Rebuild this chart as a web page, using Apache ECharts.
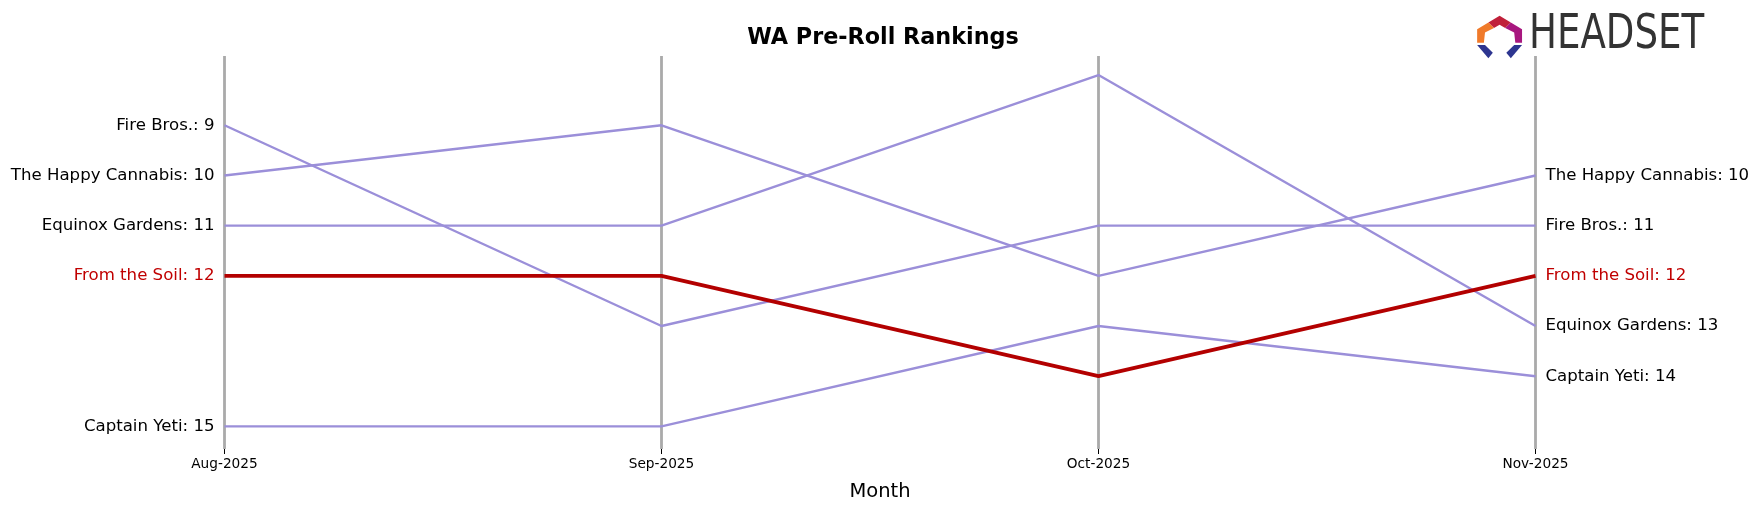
<!DOCTYPE html>
<html><head><meta charset="utf-8">
<script src="https://cdn.jsdelivr.net/npm/echarts@6/dist/echarts.min.js"></script>
<style>html,body{margin:0;padding:0;background:#fff}#c{width:1760px;height:507px}</style>
</head><body><div id="c"></div>
<script>
const months = ['Aug-2025','Sep-2025','Oct-2025','Nov-2025'];
const fireBros = [9,13,11,11];
const happyCannabis = [10,9,12,10];
const equinox = [11,11,8,13];
const fromTheSoil = [12,12,14,12];
const captainYeti = [15,15,13,14];
const names = ['Fire Bros.','The Happy Cannabis','Equinox Gardens','From the Soil','Captain Yeti'];
const values = [fireBros,happyCannabis,equinox,fromTheSoil,captainYeti];
const highlight = 'From the Soil';

const series = names.map((n,i)=>{
  const hl = n===highlight;
  const col = hl ? '#b30000' : '#9b8fd9';
  const vals = values[i];
  const lab = (pos,v)=>({show:true,position:pos,distance:10,formatter:n+': '+v,color:hl?'#c00000':'#000',fontSize:16.6,fontFamily:'DejaVu Sans'});
  return {
    type:'line', name:n, z: hl?5:2, symbol:'circle', symbolSize:0, silent:true,
    itemStyle:{color:col},
    lineStyle:{color:col,width:hl?3.8:2.4},
    data: vals.map((v,j)=>{
      const d={value:v};
      if(j===0) d.label=lab('left',v);
      if(j===vals.length-1) d.label=lab('right',v);
      return d;
    })
  };
});

const chart = echarts.init(document.getElementById('c'));
const s=1760/1568;
const P=pts=>pts.map(p=>[p[0]*s,p[1]*s]);
chart.setOption({
  animation:false,
  title:{text:'WA Pre-Roll Rankings',left:878,top:22,textAlign:'center',textStyle:{fontSize:22.3,fontWeight:'bold',fontFamily:'DejaVu Sans',color:'#000'}},
  grid:{left:224.5,right:224.5,top:56,height:396},
  xAxis:{type:'category',data:months,boundaryGap:false,
    name:'Month',nameLocation:'middle',nameGap:33,nameTextStyle:{fontSize:19.5,fontFamily:'DejaVu Sans',color:'#000'},
    axisLine:{show:false},axisTick:{show:true,alignWithLabel:true,length:5,lineStyle:{color:'#000'}},
    axisLabel:{fontSize:13.7,fontFamily:'DejaVu Sans',color:'#000',margin:8},
    splitLine:{show:true,lineStyle:{color:'#aaaaaa',width:2.8}}},
  yAxis:{type:'value',inverse:true,min:7.62,max:15.45,show:false},
  graphic:[
    {type:'text',x:1529,y:12,scaleX:0.86,style:{text:'HEADSET',fontSize:48,fontFamily:'DejaVu Sans Condensed',fill:'#333'}},
    {type:'polygon',shape:{points:P([[1326,20],[1336,14],[1346,20],[1341,25],[1336,22],[1331,25]])},style:{fill:'#c0203a'}},
    {type:'polygon',shape:{points:P([[1346,20],[1356,26],[1356,38],[1350,38],[1349,29],[1341,25]])},style:{fill:'#a8177f'}},
    {type:'polygon',shape:{points:P([[1326,20],[1316,26],[1316,38],[1322,38],[1323,29],[1331,25]])},style:{fill:'#f07a2a'}},
    {type:'polygon',shape:{points:P([[1316,40],[1323,40],[1330,47],[1326,52]])},style:{fill:'#2d3590'}},
    {type:'polygon',shape:{points:P([[1356,40],[1349,40],[1342,47],[1346,52]])},style:{fill:'#2d3590'}}
  ],
  series
});
</script></body></html>
